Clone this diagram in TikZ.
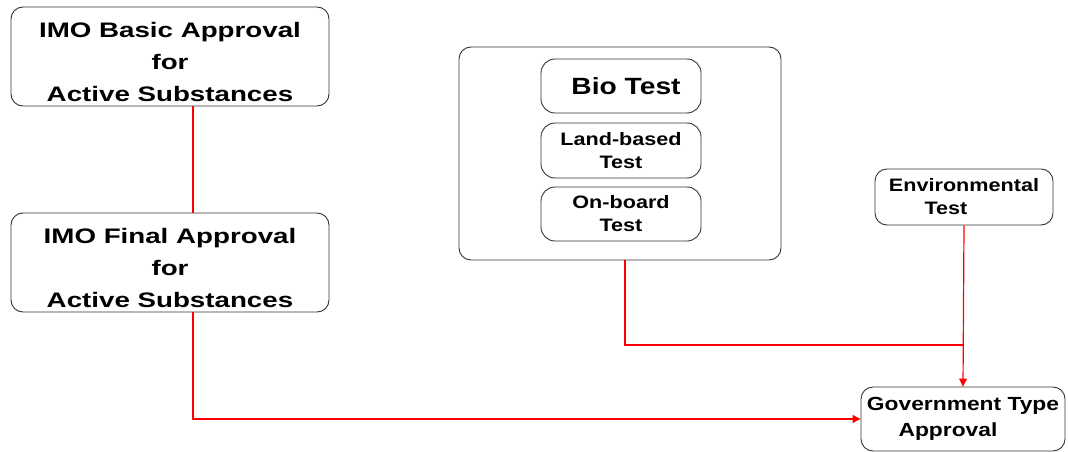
\documentclass[tikz,border=0pt]{standalone}
\usepackage{fontspec}
\setmainfont{Liberation Sans}[FakeStretch=1.2]
\newfontfamily\widefont{Liberation Sans}[FakeStretch=1.32]
\usetikzlibrary{arrows.meta}
\tikzset{box/.style={draw=black!80,line width=0.9pt,rounded corners=12pt,inner sep=0pt,align=center},
  big/.style={font=\widefont\bfseries\fontsize{21}{32}\selectfont},
  small/.style={font=\bfseries\fontsize{18}{23}\selectfont},
  link/.style={draw=red,line width=1.2pt},
  tip/.style={-{Triangle[length=8pt,width=8pt]}}}
\begin{document}
\begin{tikzpicture}[x=1pt,y=-1pt]
\useasboundingbox (0,0) rectangle (1068,452);
\node[box,minimum width=318pt,minimum height=99pt,
  label={[big,align=center,yshift=-5pt]center:IMO Basic Approval\\for\\Active Substances}] (B) at (170,56.5) {};
\node[box,minimum width=318pt,minimum height=99pt,
  label={[big,align=center,yshift=-5pt]center:IMO Final Approval\\for\\Active Substances}] (F) at (170,262.5) {};
\node[box,minimum width=322pt,minimum height=213pt] (T) at (620,153.5) {};
\node[box,font=\bfseries\fontsize{23.5}{28}\selectfont,minimum width=160pt,minimum height=54pt,rounded corners=14pt] (Bio) at (621,86) {\hspace*{10pt}Bio Test};
\node[box,small,minimum width=160pt,minimum height=55pt,rounded corners=14pt] (L) at (621,150.5) {Land-based\\Test};
\node[box,small,minimum width=160pt,minimum height=54pt,rounded corners=14pt] (O) at (621,214) {On-board\\Test};
\node[box,small,minimum width=178pt,minimum height=56pt] (E) at (964,197) {Environmental\\Test\hspace*{36pt}};
\node[box,font=\bfseries\fontsize{19}{26}\selectfont,minimum width=204pt,minimum height=64pt] (G) at (963,419) {Government Type\\Approval\hspace*{30pt}};
\coordinate (J) at (964,345);
\draw[link] ([xshift=23pt]B.south) -- ([xshift=23pt]F.north);
\draw[link,tip] ([xshift=23pt]F.south) |- (G.west);
\draw[link] ([xshift=5pt]T.south) |- (J);
\draw[link,tip] (E.south) -- (G.north);
\end{tikzpicture}
\end{document}
